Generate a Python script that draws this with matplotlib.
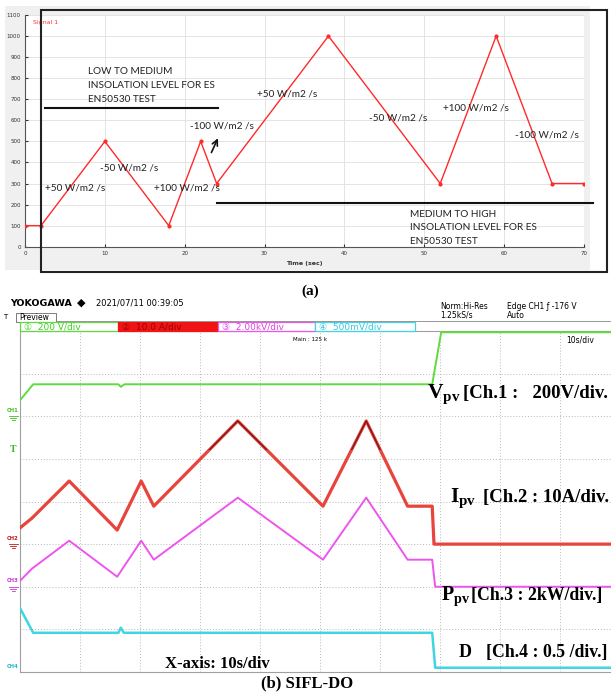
import numpy as np
import matplotlib.pyplot as plt
from matplotlib.patches import Rectangle
from matplotlib.lines import Line2D

plt.rcParams['mathtext.fontset'] = 'custom'
plt.rcParams['mathtext.rm'] = 'Liberation Serif:bold'
plt.rcParams['mathtext.bf'] = 'Liberation Serif:bold'

W, H = 611, 695

# (a) EN50530 irradiance profile
prof_t = [0, 2, 10, 18, 22, 24, 38, 52, 59, 66, 70]
prof_g = [100, 100, 500, 100, 500, 300, 1000, 300, 1000, 300, 300]
ramp_labels = ['+50 W/m2 /s', '-50 W/m2 /s', '+100 W/m2 /s', '-100 W/m2 /s',
               '+50 W/m2 /s', '-50 W/m2 /s', '+100 W/m2 /s', '-100 W/m2 /s']
ramp_x = [2.5, 9.4, 16.2, 20.7, 29.1, 43.1, 52.3, 61.4]
ramp_y = [279, 374, 279, 573, 725, 611, 659, 530]

# (b) scope capture, SIFL-DO
scope_t = [0, 2.0, 8.2, 16.2, 20.2, 22.3, 36.3, 50.5, 57.7, 64.6, 68.7, 69.0, 100]
ipv_a = [3.8, 6.1, 14.8, 3.3, 14.8, 8.9, 28.9, 8.9, 28.9, 8.9, 8.9, 0.0, 0.0]
ppv_t = [0, 2.0, 8.2, 16.2, 20.2, 22.3, 36.3, 50.5, 57.7, 64.6, 68.7, 69.2, 100]
ppv_kw = [0.28, 0.85, 2.16, 0.47, 2.16, 1.27, 4.18, 1.27, 4.18, 1.27, 1.27, 0.0, 0.0]
vpv_t = [0, 2.2, 16.4, 16.8, 17.4, 68.7, 70.2, 100]
vpv_v = [75, 150, 150, 138, 150, 150, 420, 420]
d_t = [0, 2.2, 16.4, 16.8, 17.3, 68.7, 69.2, 100]
d_val = [0.75, 0.46, 0.46, 0.52, 0.46, 0.46, 0.05, 0.05]

# channel settings: ground position (div), scale per div, colour
ch_gnd = [6.0, 3.0, 2.0, 0.0]
ch_scale = [200, 10, 2, 0.5]
ch_col = ['#5fdc3c', '#e8433c', '#ee55ee', '#3fd6e2']
ch_lab_col = ['#3cc020', '#c01818', '#cc33cc', '#20b8c8']


def fx(x):
    return x / W


def fy(y):
    return 1 - y / H


def to_div(vals, ch):
    return np.clip(np.array(vals) / ch_scale[ch] + ch_gnd[ch], 0.02, 7.97)


fig = plt.figure(figsize=(W / 100, H / 100), dpi=100)
fig.patch.set_facecolor('white')

# ---------------- (a) ----------------
fig.add_artist(Rectangle((fx(5), fy(270)), fx(590) - fx(5), fy(6) - fy(270),
                         transform=fig.transFigure, facecolor='#f0f0f0',
                         edgecolor='none', zorder=0))

ax1 = fig.add_axes([fx(25), fy(246.7), fx(584) - fx(25), fy(15) - fy(246.7)])
ax1.set_facecolor('white')
ax1.plot(prof_t, prof_g, color='#ff2a2a', lw=1.0, marker='o', ms=2, zorder=3)
ax1.set_xlim(0, 70)
ax1.set_ylim(0, 1100)
ax1.set_xticks(range(0, 71, 10))
ax1.set_yticks(range(0, 1101, 100))
ax1.tick_params(labelsize=4, length=2.5, direction='in', pad=3, colors='#333333')
ax1.grid(color='#e4e4e4', lw=0.7)
ax1.set_axisbelow(True)
for s in ['top', 'right']:
    ax1.spines[s].set_visible(False)
for s in ['left', 'bottom']:
    ax1.spines[s].set_color('#555555')
    ax1.spines[s].set_linewidth(0.8)
ax1.set_xlabel('Time (sec)', fontsize=4.5, labelpad=4, fontweight='bold', color='#333333')
ax1.text(1.0, 1065, 'Signal 1', color='#ff3030', fontsize=4.5, va='center')

for lab, x, y in zip(ramp_labels, ramp_x, ramp_y):
    ax1.text(x, y, lab, fontsize=7.2, family='Lato', va='center', ha='left', color='#222222')

ax1.text(7.9, 765, 'LOW TO MEDIUM\nINSOLATION LEVEL FOR ES\nEN50530 TEST',
         fontsize=7.2, family='Lato', va='center', ha='left', linespacing=1.7, color='#222222')
ax1.text(48.2, 89, 'MEDIUM TO HIGH\nINSOLATION LEVEL FOR ES\nEN50530 TEST',
         fontsize=7.2, family='Lato', va='center', ha='left', linespacing=1.7, color='#222222')
ax1.plot([2.5, 24.2], [658, 658], color='#111111', lw=1.5, clip_on=False)
ax1.plot([24.0, 71.1], [207, 207], color='#111111', lw=1.5, clip_on=False)
ax1.annotate('', xy=(24.3, 527), xytext=(23.2, 435),
             arrowprops=dict(arrowstyle='->', color='#111111', lw=1.2))

fig.add_artist(Rectangle((fx(41), fy(272)), fx(607) - fx(41), fy(10) - fy(272),
                         transform=fig.transFigure, facecolor='none',
                         edgecolor='#222222', lw=1.5, zorder=5))
fig.text(fx(310), fy(291), '(a)', fontsize=11, family='Liberation Serif',
         fontweight='bold', ha='center', va='center')

# ---------------- (b) scope ----------------
fig.text(fx(10), fy(303), 'YOKOGAWA', fontsize=6.8, fontweight='bold', va='center')
fig.text(fx(77), fy(303), '\u25c6', fontsize=8, va='center')
fig.text(fx(96), fy(303), '2021/07/11 00:39:05', fontsize=6, va='center')
fig.text(fx(3), fy(317), 'T', fontsize=5, va='center')
fig.add_artist(Rectangle((fx(16), fy(322)), fx(56) - fx(16), fy(313) - fy(322),
                         transform=fig.transFigure, facecolor='white',
                         edgecolor='#666666', lw=0.6))
fig.text(fx(19), fy(317.5), 'Preview', fontsize=5.5, va='center')
fig.add_artist(Line2D([fx(56), 1], [fy(321), fy(321)], transform=fig.transFigure,
                      color='#888888', lw=0.6))
fig.text(fx(440), fy(306), 'Norm:Hi-Res', fontsize=5.5, va='center')
fig.text(fx(440), fy(315), '1.25kS/s', fontsize=5.5, va='center')
fig.text(fx(507), fy(306), 'Edge CH1 \u0192 -176 V', fontsize=5.5, va='center')
fig.text(fx(507), fy(315), 'Auto', fontsize=5.5, va='center')

box_x = [20, 118, 218, 315, 415]
box_txt = ['\u2460  200 V/div', '\u2461  10.0 A/div', '\u2462  2.00kV/div', '\u2463  500mV/div']
box_face = ['white', '#f01414', 'white', 'white']
box_txtcol = ['#3cd020', '#9a0000', '#e040e0', '#30c8e8']
for i in range(4):
    fig.add_artist(Rectangle((fx(box_x[i]), fy(330.5)), fx(box_x[i + 1]) - fx(box_x[i]),
                             fy(322) - fy(330.5), transform=fig.transFigure,
                             facecolor=box_face[i], edgecolor=ch_col[i] if i != 1 else '#f01414',
                             lw=0.9))
    fig.text(fx(box_x[i] + 4), fy(326.5), box_txt[i], fontsize=6.5, va='center',
             color=box_txtcol[i], family=['DejaVu Sans', 'Noto Sans CJK JP'])

ax2 = fig.add_axes([fx(20), fy(672), fx(620) - fx(20), fy(331) - fy(672)])
ax2.set_xlim(0, 100)
ax2.set_ylim(0, 8)
ax2.set_xticks(np.arange(0, 101, 10))
ax2.set_yticks(np.arange(0, 9, 1))
ax2.tick_params(length=0, labelbottom=False, labelleft=False)
ax2.grid(color='#b8b8b8', lw=0.7, ls=(0, (1, 2)))
for s in ax2.spines.values():
    s.set_color('#a0a0a0')
    s.set_linewidth(0.8)

ax2.plot(vpv_t, to_div(vpv_v, 0), color=ch_col[0], lw=1.4, zorder=3)
ax2.plot(scope_t, to_div(ipv_a, 1), color=ch_col[1], lw=2.3, zorder=3)
dark = ax2.plot(scope_t, to_div(ipv_a, 1), color='#7a1414', lw=0.9, zorder=4)[0]
dark.set_clip_path(Rectangle((0, 5.2), 100, 3.0, transform=ax2.transData))
ax2.plot(ppv_t, to_div(ppv_kw, 2), color=ch_col[2], lw=1.4, zorder=3)
ax2.plot(d_t, to_div(d_val, 3), color=ch_col[3], lw=1.8, zorder=3)

ax2.text(45.5, 7.8, 'Main : 125 k', fontsize=4, va='center')
ax2.text(91, 7.8, '10s/div', fontsize=5.5, va='center')

# ground markers on the left edge
for i, name in enumerate(['CH1', 'CH2', 'CH3', 'CH4']):
    gy = 672 - ch_gnd[i] * 42.6
    fig.text(fx(13), fy(gy - 6), name, fontsize=3.8, color=ch_lab_col[i],
             ha='center', va='center', fontweight='bold')
    if i < 3:
        for dx, dy in [(4.5, 0), (3, 2), (1.5, 4)]:
            fig.add_artist(Line2D([fx(13 - dx), fx(13 + dx)], [fy(gy + dy), fy(gy + dy)],
                                  transform=fig.transFigure, color=ch_lab_col[i], lw=0.6))
fig.text(fx(13), fy(450), 'T', fontsize=7, color='#30c020', family='Liberation Serif',
         fontweight='bold', ha='center', va='center')

serif = 'Liberation Serif'
sig_lab = [r'V$_{\mathbf{pv}}$', r'I$_{\mathbf{pv}}$', r'P$_{\mathbf{pv}}$', 'D']
sig_x = [427, 450, 441, 459]
sig_base = [398, 502, 600, 657]
sig_txt = ['[Ch.1 :   200V/div.', '[Ch.2 : 10A/div.', '[Ch.3 : 2kW/div.]', '[Ch.4 : 0.5 /div.]']
sig_tx = [463, 483, 462, 486]
sig_size = [15.5, 15.5, 14.5, 13]
txt_size = [13.5, 13.5, 12.8, 12.8]
renderer = fig.canvas.get_renderer()
for lab, x, yb, txt, tx, sz, tsz in zip(sig_lab, sig_x, sig_base, sig_txt, sig_tx,
                                        sig_size, txt_size):
    t = fig.text(fx(x), fy(yb), lab, fontsize=sz, family=serif, fontweight='bold', va='baseline')
    x_end = t.get_window_extent(renderer).x1
    fig.text(max(fx(tx), (x_end + 1) / W), fy(yb), txt, fontsize=tsz, family=serif,
             fontweight='bold', va='baseline')

fig.text(fx(165), fy(668), 'X-axis: 10s/div', fontsize=12, family=serif, fontweight='bold',
         va='baseline')
fig.text(fx(307), fy(683), '(b) SIFL-DO', fontsize=12, family=serif, fontweight='bold',
         ha='center', va='center')

fig.savefig('out.png', dpi=100)
